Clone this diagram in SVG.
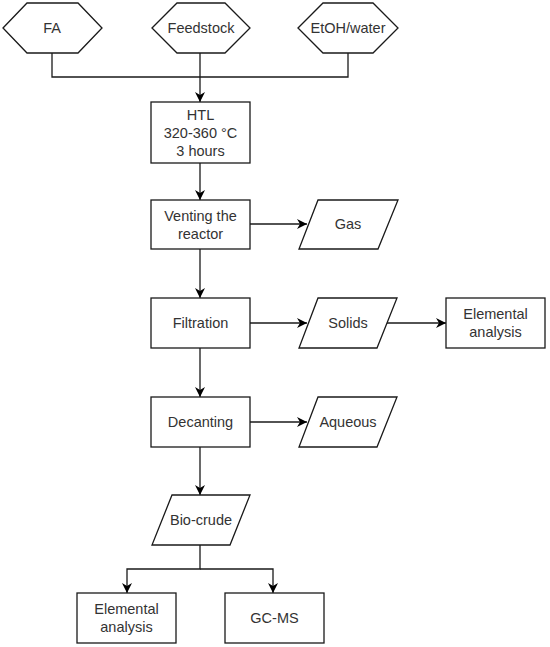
<svg xmlns="http://www.w3.org/2000/svg" width="550" height="647" viewBox="0 0 550 647">
<defs>
<style>
.s{fill:#fff;stroke:#1a1a1a;stroke-width:1.3}
.c{fill:none;stroke:#1a1a1a;stroke-width:1.3}
text{font-family:"Liberation Sans",Arial,sans-serif;font-size:14.5px;fill:#333;text-anchor:middle;dominant-baseline:central}
</style>
<marker id="a" viewBox="0 0 10 10" refX="10" refY="5" markerWidth="10" markerHeight="10" markerUnits="userSpaceOnUse" orient="auto">
<path d="M0,0 L10,5 L0,10 L3,5 Z" fill="#000"/>
</marker>
</defs>
<rect width="550" height="647" fill="#fff"/>
<g id="connectors">
<path class="c" d="M52,53 V77 H348 V53"/>
<path class="c" d="M200,53 V102" marker-end="url(#a)"/>
<path class="c" d="M200,163 V200" marker-end="url(#a)"/>
<path class="c" d="M250,224 H307" marker-end="url(#a)"/>
<path class="c" d="M200,249 V298" marker-end="url(#a)"/>
<path class="c" d="M250,323 H307" marker-end="url(#a)"/>
<path class="c" d="M387,323 H446" marker-end="url(#a)"/>
<path class="c" d="M200,348 V397" marker-end="url(#a)"/>
<path class="c" d="M250,422 H307" marker-end="url(#a)"/>
<path class="c" d="M200,447 V495" marker-end="url(#a)"/>
<path class="c" d="M200,545 V569 H127 V593" marker-end="url(#a)"/>
<path class="c" d="M200,569 H273 V593" marker-end="url(#a)"/>
</g>
<g id="fa"><polygon class="s" points="3,28 27,3 78,3 102,28 78,53 27,53"/><text x="52" y="28">FA</text></g>
<g id="feedstock"><polygon class="s" points="152,28 177,3 225,3 250,28 225,53 177,53"/><text x="201" y="28">Feedstock</text></g>
<g id="etoh"><polygon class="s" points="298,28 323,3 373,3 398,28 373,53 323,53"/><text x="348" y="28">EtOH/water</text></g>
<g id="htl"><rect class="s" x="151" y="102" width="99" height="61"/><text x="200.5" y="115">HTL</text><text x="200.5" y="133">320-360 °C</text><text x="200.5" y="151">3 hours</text></g>
<g id="venting"><rect class="s" x="151" y="200" width="99" height="49"/><text x="200.5" y="216">Venting the</text><text x="200.5" y="234">reactor</text></g>
<g id="gas"><polygon class="s" points="318,200 398,200 378,249 299,249"/><text x="348" y="224">Gas</text></g>
<g id="filtration"><rect class="s" x="151" y="298" width="99" height="50"/><text x="200.5" y="323">Filtration</text></g>
<g id="solids"><polygon class="s" points="318,298 397,298 377,348 299,348"/><text x="348" y="323">Solids</text></g>
<g id="elemental1"><rect class="s" x="446" y="298" width="99" height="50"/><text x="495.5" y="314">Elemental</text><text x="495.5" y="332">analysis</text></g>
<g id="decanting"><rect class="s" x="151" y="397" width="99" height="50"/><text x="200.5" y="422">Decanting</text></g>
<g id="aqueous"><polygon class="s" points="318,397 397,397 377,447 299,447"/><text x="348" y="422">Aqueous</text></g>
<g id="biocrude"><polygon class="s" points="172,495 250,495 230,545 152,545"/><text x="201" y="520">Bio-crude</text></g>
<g id="elemental2"><rect class="s" x="77" y="593" width="99" height="50"/><text x="126.5" y="609">Elemental</text><text x="126.5" y="627">analysis</text></g>
<g id="gcms"><rect class="s" x="225" y="593" width="99" height="50"/><text x="274.5" y="618">GC-MS</text></g>
</svg>
